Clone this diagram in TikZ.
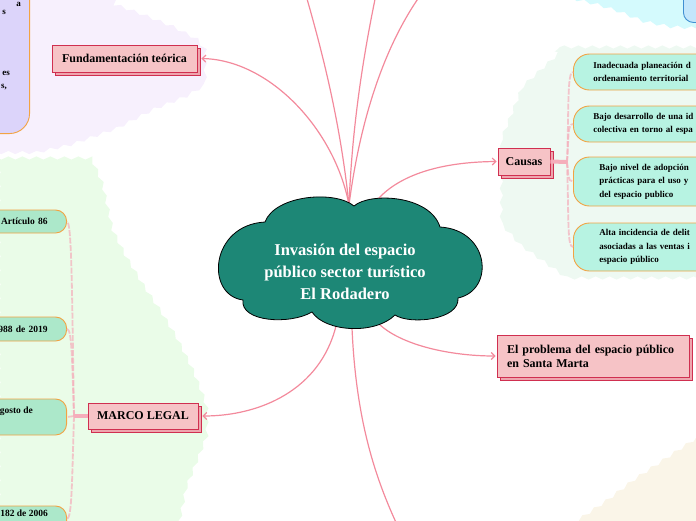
\documentclass[tikz,border=0pt]{standalone}
\usepackage{fontspec}
\setmainfont{Liberation Serif}
\usetikzlibrary{arrows.meta,decorations.pathmorphing,shadows,calc}
\definecolor{lnk}{HTML}{F38A9C}
\definecolor{pinkfill}{HTML}{F6C3C6}
\definecolor{crimson}{HTML}{D02F50}
\definecolor{cloudteal}{HTML}{1D8776}
\definecolor{mintR}{HTML}{B7F3E2}
\definecolor{mintL}{HTML}{ACE8CA}
\definecolor{orng}{HTML}{F2A343}
\definecolor{lav}{HTML}{DCD4FA}
\definecolor{regP}{HTML}{F7F0FD}
\definecolor{regG}{HTML}{EAFCE8}
\definecolor{regM}{HTML}{EEF9F2}
\definecolor{regC}{HTML}{D4FAFD}
\definecolor{regY}{HTML}{FAF5E8}
\definecolor{bluefill}{HTML}{C3E6FB}
\definecolor{blueline}{HTML}{3F8FD2}
\definecolor{branch}{HTML}{F5AEBB}
\begin{document}
\begin{tikzpicture}[x=1pt,y=-1pt,
  wavy/.style={decorate,decoration={snake,segment length=14pt,amplitude=1.6pt}},
  topic/.style={draw=crimson,line width=0.9pt,fill=pinkfill,inner sep=0pt,
    font=\bfseries\fontsize{12}{14}\selectfont,
    general shadow={shadow xshift=3pt,shadow yshift=-3pt,fill=pinkfill!80!crimson,draw=crimson,line width=0.9pt}},
  rbox/.style={draw=orng,line width=0.9pt,fill=mintR,rounded corners=16pt,anchor=west,
    font=\bfseries\fontsize{9}{13.5}\selectfont,align=left,inner ysep=0pt},
  lbox/.style={draw=orng,line width=0.9pt,fill=mintL,rounded corners=11pt,anchor=east,
    font=\bfseries\fontsize{9.5}{13}\selectfont,align=right,inner ysep=0pt,
    minimum width=140pt,text width=102pt,inner xsep=19pt},
  ltext/.style={font=\bfseries\fontsize{9.5}{13}\selectfont,inner sep=0pt,anchor=east},
  frag/.style={font=\bfseries\fontsize{9}{11}\selectfont,inner sep=0pt},
  link/.style={lnk,line width=1.2pt,-{Straight Barb[length=3.5pt,width=7pt]}},
  plainlink/.style={lnk,line width=1.2pt},
  stub/.style={branch,line width=4pt},
  twig/.style={branch,line width=1.8pt,opacity=0.7,dash pattern=on 6pt off 1.5pt}]
\useasboundingbox (0,0) rectangle (696,520);
\clip (0,0) rectangle (696,520);
% background regions
\fill[regP,wavy] (-10,-10) -- (112,-10) -- (112,0) -- (140,10) -- (175,24) -- (198,36) -- (205,45) -- (205,80) -- (185,92) -- (150,106) -- (115,124) -- (70,140) -- (35,148) -- (-10,148) -- cycle;
\fill[regG,wavy] (-10,158) -- (88,158) -- (100,185) -- (110,230) -- (125,260) -- (140,285) -- (160,315) -- (175,340) -- (190,370) -- (200,395) -- (205,412) -- (205,440) -- (195,465) -- (185,490) -- (177,530) -- (-10,530) -- cycle;
\fill[regM,wavy] (560,47) -- (706,47) -- (706,278) -- (557,278) -- (513,247) -- (493,225) -- (493,140) -- (513,90) -- cycle;
\fill[regC,wavy] (540,-10) -- (706,-10) -- (706,37) -- (665,35) -- (640,30) -- (615,20) -- (590,12) -- (565,6) -- (547,0) -- cycle;
\fill[regY,wavy] (560,530) -- (706,530) -- (706,430) -- (690,432) -- (660,452) -- (630,472) -- (600,495) -- (572,514) -- cycle;
% partial boxes at the edges
\node[draw=orng,fill=lav,rounded corners=20pt,line width=0.9pt,minimum width=80pt,minimum height=170pt,anchor=south east] (pbox) at (30,134) {};
\node[frag,anchor=east] (pf1) at (21,4) {a};
\node[frag,anchor=east] (pf2) at (6,12) {s};
\node[frag,anchor=east] (pf3) at (10,73) {es};
\node[frag,anchor=east] (pf4) at (7,87) {s,};
\node[draw=blueline,fill=bluefill,rounded corners=10pt,line width=0.9pt,minimum width=60pt,minimum height=50pt,anchor=north west] (bbox) at (683,-28) {};
% anchor points on the cloud and off-picture ends
\coordinate (ctop) at (349,205);
\coordinate (cright) at (378,199);
\coordinate (cbr) at (378,323);
\coordinate (cbl) at (336,326);
\coordinate (cbot) at (352,328);
\coordinate (offA) at (303,-15);
\coordinate (offB) at (378,-15);
\coordinate (offC) at (428,-15);
\coordinate (offD) at (402,535);
% nodes
\node[topic,minimum width=145pt,minimum height=27pt] (fund) at (124.5,58.5) {Fundamentación teórica};
\node[topic,minimum width=52pt,minimum height=27pt] (causas) at (524,161.5) {Causas};
\node[topic,minimum width=192pt,minimum height=42pt,text width=172pt,align=left,inner xsep=10pt] (prob) at (593,356) {El problema del espacio público\\en Santa Marta};
\node[topic,minimum width=110pt,minimum height=26pt] (legal) at (143,416) {MARCO LEGAL};
% connectors from the central idea
\draw[link] (ctop) .. controls (335,130) and (270,60) .. ([xshift=4pt]fund.east);
\draw[plainlink] (ctop) .. controls (340,120) and (322,50) .. (offA);
\draw[plainlink] (ctop) .. controls (352,130) and (362,60) .. (offB);
\draw[plainlink] (ctop) .. controls (360,120) and (385,40) .. (offC);
\draw[link] (cright) .. controls (400,175) and (440,162) .. ([xshift=-1pt]causas.west);
\draw[link] (cbr) .. controls (400,345) and (450,356) .. ([xshift=-1pt]prob.west);
\draw[link] (cbl) .. controls (320,390) and (260,416) .. ([xshift=4pt]legal.east);
\draw[plainlink] (cbot) .. controls (356,420) and (375,480) .. (offD);
% central cloud
\filldraw[fill=cloudteal,draw=black,line width=0.8pt]
 (265,222) .. controls (275,195) and (335,190) .. (354,206)
 .. controls (370,192) and (430,195) .. (440,227)
 .. controls (490,230) and (495,290) .. (458,298)
 .. controls (460,320) and (410,325) .. (395,315)
 .. controls (375,335) and (325,332) .. (312,312)
 .. controls (290,325) and (240,322) .. (243,300)
 .. controls (205,295) and (210,225) .. (265,222) -- cycle;
\node[text=white,align=center,font=\bfseries\fontsize{16.5}{22}\selectfont] (main) at (345,272) {Invasión del espacio\\público sector turístico\\El Rodadero};
% Causas children
\node[rbox,minimum width=200pt,minimum height=36pt,text width=160pt,inner xsep=20pt] (c1) at (573,72) {Inadecuada planeación d\\ordenamiento territorial};
\node[rbox,minimum width=200pt,minimum height=36pt,text width=160pt,inner xsep=20pt] (c2) at (573,124) {Bajo desarrollo de una id\\colectiva en torno al espa};
\node[rbox,minimum width=200pt,minimum height=49pt,text width=148pt,inner xsep=26pt] (c3) at (573,181.5) {Bajo nivel de adopción\\prácticas para el uso y\\del espacio publico};
\node[rbox,minimum width=200pt,minimum height=48pt,text width=148pt,inner xsep=26pt] (c4) at (573,247) {Alta incidencia de delit\\asociadas a las ventas i\\espacio público};
\coordinate (cj) at (567,162);
\draw[stub] (causas.east) -- (cj);
\draw[twig] (cj) .. controls (569,110) and (567,72) .. (c1.west);
\draw[twig] (cj) .. controls (569,140) and (567,124) .. (c2.west);
\draw[twig] (cj) .. controls (569,175) and (567,181) .. (c3.west);
\draw[twig] (cj) .. controls (569,220) and (567,247) .. (c4.west);
% MARCO LEGAL children
\node[lbox,minimum height=23pt] (m1) at (67,221.5) {Artículo 86};
\node[lbox,minimum height=24pt] (m2) at (67,329) {988 de 2019};
\node[lbox,minimum height=36pt] (m3) at (67,417) {};
\node[ltext] (m3t) at (33,411) {gosto de};
\node[lbox,minimum height=26pt] (m4) at (67,519) {};
\node[ltext] (m4t) at (48,513) {182 de 2006};
\coordinate (lj) at (74,416);
\draw[stub] (legal.west) -- (lj);
\draw[twig] (lj) .. controls (72,300) and (72,222) .. (m1.east);
\draw[twig] (lj) .. controls (72,360) and (72,329) .. (m2.east);
\draw[twig] (lj) .. controls (72,416) and (70,417) .. (m3.east);
\draw[twig] (lj) .. controls (72,480) and (72,518) .. (m4.east);
\end{tikzpicture}
\end{document}
